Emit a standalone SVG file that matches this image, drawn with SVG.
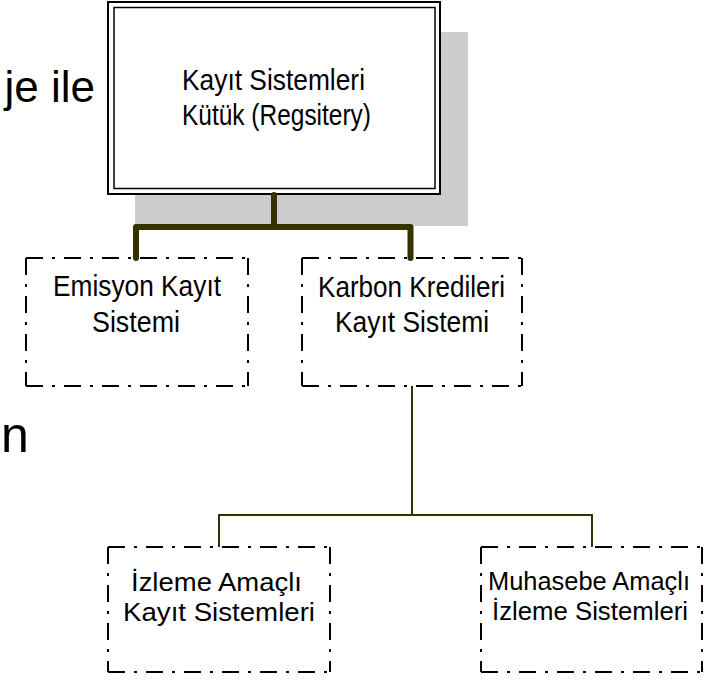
<svg xmlns="http://www.w3.org/2000/svg" width="714" height="681" viewBox="0 0 714 681">
  <style>
    .bg { fill: #ffffff; }
    .lbl { font-family: "Liberation Sans", Arial, sans-serif; font-size: 29.5px; fill: #000; }
    .lbs { font-family: "Liberation Sans", Arial, sans-serif; font-size: 26px; fill: #000; }
    .big { font-family: "Liberation Sans", Arial, sans-serif; fill: #000; }
    .dd { fill: none; stroke: #000; stroke-width: 2; stroke-dasharray: 17 9 3 9; }
    .thick { fill: none; stroke: #333300; stroke-width: 6; stroke-linejoin: round; stroke-linecap: round; }
    .thin { fill: none; stroke: #333300; stroke-width: 2; }
  </style>
  <rect class="bg" x="0" y="0" width="714" height="681"/>

  <!-- background text fragments -->
  <text class="big" x="95" y="102" font-size="44" text-anchor="end">je ile</text>
  <text class="big" x="1" y="452" font-size="50">n</text>

  <!-- top node -->
  <g id="node-registry">
    <rect x="135" y="32" width="333" height="194" fill="#cccccc"/>
    <rect x="108" y="2" width="332" height="192" fill="#ffffff" stroke="#000" stroke-width="2"/>
    <rect x="114" y="7.5" width="321" height="181" fill="none" stroke="#000" stroke-width="1.5"/>
    <text class="lbl" x="182" y="90" textLength="183" lengthAdjust="spacingAndGlyphs">Kayıt Sistemleri</text>
    <text class="lbl" x="182" y="125" textLength="189" lengthAdjust="spacingAndGlyphs">Kütük (Regsitery)</text>
  </g>

  <!-- connectors -->
  <g id="connectors">
    <path class="thick" d="M274,195 V227 M136,258 V227 H410.5 V258"/>
    <path class="thin" d="M412,386 V515 M219,547 V515 H592 V547"/>
  </g>

  <g id="node-emisyon">
    <path class="dd" d="M26,258 H248 M26,258 V386 M26,386 H248 M248,258 V386"/>
    <text class="lbl" x="53" y="296" textLength="168" lengthAdjust="spacingAndGlyphs">Emisyon Kayıt</text>
    <text class="lbl" x="92" y="332" textLength="88" lengthAdjust="spacingAndGlyphs">Sistemi</text>
  </g>

  <g id="node-karbon">
    <path class="dd" d="M302,258 H522 M302,258 V386 M302,386 H522 M522,258 V386"/>
    <text class="lbl" x="318" y="297" textLength="187" lengthAdjust="spacingAndGlyphs">Karbon Kredileri</text>
    <text class="lbl" x="335" y="332" textLength="154" lengthAdjust="spacingAndGlyphs">Kayıt Sistemi</text>
  </g>

  <g id="node-izleme">
    <path class="dd" d="M108,547 H330 M108,547 V672 M108,672 H330 M330,547 V672"/>
    <text class="lbs" x="131" y="591" textLength="171" lengthAdjust="spacingAndGlyphs">İzleme Amaçlı</text>
    <text class="lbs" x="123" y="621" textLength="192" lengthAdjust="spacingAndGlyphs">Kayıt Sistemleri</text>
  </g>

  <g id="node-muhasebe">
    <path class="dd" d="M481,547 H702 M481,547 V672 M481,672 H702 M702,547 V672"/>
    <text class="lbs" x="488" y="590" textLength="202" lengthAdjust="spacingAndGlyphs">Muhasebe Amaçlı</text>
    <text class="lbs" x="492" y="620" textLength="196" lengthAdjust="spacingAndGlyphs">İzleme Sistemleri</text>
  </g>
</svg>
